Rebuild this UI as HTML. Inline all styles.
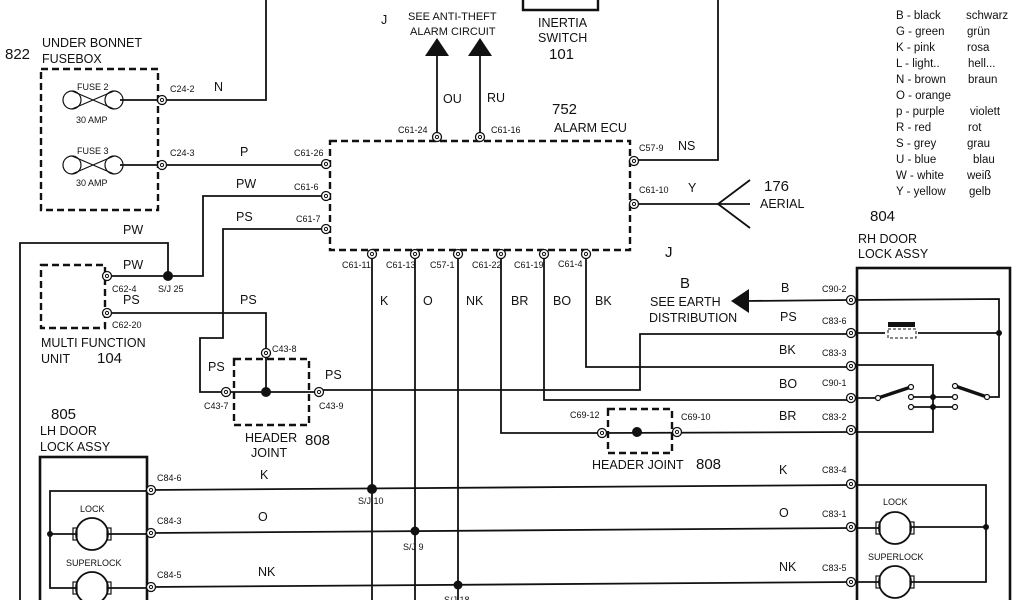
<!DOCTYPE html>
<html><head><meta charset="utf-8"><style>
html,body{margin:0;padding:0;background:#fff;}
svg{display:block;}
text{font-family:"Liberation Sans",sans-serif;fill:#111;}
.s{font-size:9px;}
.m{font-size:12.5px;}
.l{font-size:15px;}
</style></head><body>
<svg width="1024" height="600" viewBox="0 0 1024 600" xmlns="http://www.w3.org/2000/svg">
<defs>
<g id="c"><circle r="4.5" fill="#fff" stroke="#111" stroke-width="1.3"/><circle r="1.6" fill="none" stroke="#111" stroke-width="1"/></g>
</defs>
<g fill="none" stroke="#111" stroke-width="1.8">
<polyline points="266,0 266,100 162,100"/>
<polyline points="523,0 523,10 598,10 598,0" stroke-width="2.4"/>
<polyline points="718,0 718,160 632,160"/>
<rect x="41" y="69" width="117" height="141" stroke-dasharray="7,4" stroke-width="2.4"/>
<line x1="120" y1="100" x2="162" y2="100"/>
<line x1="120" y1="165" x2="330" y2="165"/>
<rect x="330" y="141" width="300" height="109" stroke-dasharray="7,4" stroke-width="2.4"/>
<line x1="437" y1="138" x2="437" y2="52"/>
<line x1="480" y1="138" x2="480" y2="52"/>
<line x1="632" y1="204" x2="718" y2="204"/>
<polyline points="750,180 718,204 750,228"/><line x1="718" y1="204" x2="750" y2="204"/>
<polyline points="330,196 203,196 203,276 107,276"/>
<polyline points="168,276 168,243 20,243 20,600"/>
<rect x="41" y="265" width="64" height="63" stroke-dasharray="7,4" stroke-width="2.4"/>
<polyline points="107,313 266,313 266,352"/>
<polyline points="330,229 223,229 223,338 200,338 200,392 226,392"/>
<rect x="234" y="359" width="75" height="66" stroke-dasharray="7,4" stroke-width="2.4"/>
<line x1="226" y1="392" x2="319" y2="392"/><line x1="266" y1="352" x2="266" y2="392"/>
<polyline points="319,390 640,390 640,334 850,334"/>
<line x1="372" y1="253" x2="372" y2="600"/>
<line x1="415" y1="253" x2="415" y2="600"/>
<line x1="458" y1="253" x2="458" y2="600"/>
<polyline points="501,253 501,433 602,433"/>
<polyline points="544,253 544,400 850,400"/>
<polyline points="586,253 586,367 850,367"/>
<rect x="608" y="409" width="64" height="44" stroke-dasharray="7,4" stroke-width="2.4"/>
<line x1="602" y1="433" x2="850" y2="432"/>
<line x1="745" y1="301" x2="850" y2="300"/>
<line x1="150" y1="490" x2="850" y2="485"/>
<line x1="150" y1="533" x2="850" y2="528"/>
<line x1="150" y1="587" x2="850" y2="582"/>
<rect x="857" y="268" width="153" height="340" stroke-width="2.6"/>
<polyline points="850,300 999,299 999,397 987,397"/>
<line x1="850" y1="333" x2="885" y2="333"/><line x1="918" y1="333" x2="999" y2="333"/>
<rect x="888" y="329" width="28" height="9" stroke-dasharray="3,2" stroke-width="1"/>
<polyline points="850,365 933,365 933,432 850,432"/>
<line x1="850" y1="398" x2="878" y2="398"/>
<line x1="878" y1="398" x2="911" y2="387" stroke-width="3.4"/>
<line x1="955" y1="386" x2="987" y2="397" stroke-width="3.4"/>
<line x1="911" y1="397" x2="955" y2="397"/><line x1="911" y1="407" x2="955" y2="407"/>
<polyline points="857,485 986,485 986,582 911,582"/>
<line x1="911" y1="527" x2="986" y2="527"/>
<line x1="857" y1="528" x2="879" y2="528"/><line x1="857" y1="582" x2="879" y2="582"/>
<rect x="40" y="457" width="107" height="150" stroke-width="2.6"/>
<polyline points="150,491 50,491 50,588 76,588"/>
<line x1="50" y1="534" x2="76" y2="534"/>
<line x1="108" y1="534" x2="150" y2="534"/><line x1="108" y1="588" x2="150" y2="588"/>
<circle cx="895" cy="528" r="16"/><circle cx="895" cy="582" r="16"/>
<circle cx="92" cy="534" r="16"/><circle cx="92" cy="588" r="16"/>
<rect x="876" y="522" width="4" height="12" stroke-width="1.2"/><rect x="910" y="522" width="4" height="12" stroke-width="1.2"/>
<rect x="876" y="576" width="4" height="12" stroke-width="1.2"/><rect x="910" y="576" width="4" height="12" stroke-width="1.2"/>
<rect x="73" y="528" width="4" height="12" stroke-width="1.2"/><rect x="107" y="528" width="4" height="12" stroke-width="1.2"/>
<rect x="73" y="582" width="4" height="12" stroke-width="1.2"/><rect x="107" y="582" width="4" height="12" stroke-width="1.2"/>
<g stroke-width="1.2"><circle cx="72" cy="100" r="9"/><circle cx="114" cy="100" r="9"/><polyline points="72,91 114,109"/><polyline points="72,109 114,91"/>
<circle cx="72" cy="165" r="9"/><circle cx="114" cy="165" r="9"/><polyline points="72,156 114,174"/><polyline points="72,174 114,156"/></g>
</g>
<rect x="888" y="322" width="27" height="5" fill="#111"/>
<polygon points="437,38 425,56 449,56" fill="#111"/>
<polygon points="480,38 468,56 492,56" fill="#111"/>
<polygon points="731,301 749,289 749,313" fill="#111"/>
<g fill="#111">
<circle cx="168" cy="276" r="5"/><circle cx="266" cy="392" r="5"/><circle cx="637" cy="432" r="5"/>
<circle cx="372" cy="489" r="5"/><circle cx="415" cy="531" r="4.5"/><circle cx="458" cy="585" r="4.5"/>
<circle cx="999" cy="333" r="3"/><circle cx="933" cy="397" r="3"/><circle cx="933" cy="407" r="3"/>
<circle cx="986" cy="527" r="3"/><circle cx="50" cy="534" r="3"/>
</g>
<g fill="#fff" stroke="#111" stroke-width="1.2">
<circle cx="911" cy="387" r="2.5"/><circle cx="911" cy="397" r="2.5"/><circle cx="911" cy="407" r="2.5"/><circle cx="878" cy="398" r="2.5"/>
<circle cx="955" cy="386" r="2.5"/><circle cx="955" cy="397" r="2.5"/><circle cx="955" cy="407" r="2.5"/><circle cx="987" cy="397" r="2.5"/>
</g>
<use href="#c" x="162" y="100"/><use href="#c" x="162" y="165"/>
<use href="#c" x="326" y="164"/><use href="#c" x="326" y="196"/><use href="#c" x="326" y="229"/>
<use href="#c" x="437" y="137"/><use href="#c" x="480" y="137"/>
<use href="#c" x="634" y="161"/><use href="#c" x="634" y="204"/>
<use href="#c" x="372" y="254"/><use href="#c" x="415" y="254"/><use href="#c" x="458" y="254"/>
<use href="#c" x="501" y="254"/><use href="#c" x="544" y="254"/><use href="#c" x="586" y="254"/>
<use href="#c" x="107" y="276"/><use href="#c" x="107" y="313"/>
<use href="#c" x="266" y="353"/><use href="#c" x="226" y="392"/><use href="#c" x="319" y="392"/>
<use href="#c" x="602" y="433"/><use href="#c" x="677" y="432"/>
<use href="#c" x="851" y="300"/><use href="#c" x="851" y="333"/><use href="#c" x="851" y="366"/>
<use href="#c" x="851" y="398"/><use href="#c" x="851" y="430"/><use href="#c" x="851" y="484"/>
<use href="#c" x="851" y="527"/><use href="#c" x="851" y="582"/>
<use href="#c" x="151" y="490"/><use href="#c" x="151" y="533"/><use href="#c" x="151" y="587"/>
<text x="5" y="59" class="l">822</text>
<text x="42" y="47" class="m">UNDER BONNET</text><text x="42" y="63" class="m">FUSEBOX</text>
<text x="77" y="90" class="s">FUSE 2</text><text x="76" y="123" class="s">30 AMP</text>
<text x="77" y="154" class="s">FUSE 3</text><text x="76" y="186" class="s">30 AMP</text>
<text x="170" y="92" class="s">C24-2</text><text x="214" y="91" class="m">N</text>
<text x="170" y="156" class="s">C24-3</text><text x="240" y="156" class="m">P</text>
<text x="294" y="156" class="s">C61-26</text>
<text x="236" y="188" class="m">PW</text><text x="294" y="190" class="s">C61-6</text>
<text x="236" y="221" class="m">PS</text><text x="296" y="222" class="s">C61-7</text>
<text x="123" y="234" class="m">PW</text>
<text x="123" y="269" class="m">PW</text><text x="112" y="292" class="s">C62-4</text><text x="158" y="292" class="s">S/J 25</text>
<text x="123" y="304" class="m">PS</text><text x="112" y="328" class="s">C62-20</text>
<text x="240" y="304" class="m">PS</text>
<text x="41" y="347" class="m">MULTI FUNCTION</text><text x="41" y="363" class="m">UNIT</text><text x="97" y="363" class="l">104</text>
<text x="208" y="371" class="m">PS</text><text x="272" y="352" class="s">C43-8</text>
<text x="204" y="409" class="s">C43-7</text><text x="319" y="409" class="s">C43-9</text><text x="325" y="379" class="m">PS</text>
<text x="245" y="442" class="m">HEADER</text><text x="251" y="457" class="m">JOINT</text><text x="305" y="445" class="l">808</text>
<text x="51" y="419" class="l">805</text><text x="40" y="435" class="m">LH DOOR</text><text x="40" y="451" class="m">LOCK ASSY</text>
<text x="80" y="512" class="s">LOCK</text><text x="66" y="566" class="s">SUPERLOCK</text>
<text x="157" y="481" class="s">C84-6</text><text x="260" y="479" class="m">K</text>
<text x="157" y="524" class="s">C84-3</text><text x="258" y="521" class="m">O</text>
<text x="157" y="578" class="s">C84-5</text><text x="258" y="576" class="m">NK</text>
<text x="358" y="504" class="s">S/J 10</text><text x="403" y="550" class="s">S/J 9</text><text x="444" y="603" class="s">S/J 18</text>
<text x="381" y="24" class="m">J</text>
<text x="408" y="20" class="s" style="font-size:11px">SEE ANTI-THEFT</text><text x="410" y="35" class="s" style="font-size:11px">ALARM CIRCUIT</text>
<text x="538" y="27" class="m">INERTIA</text><text x="538" y="42" class="m">SWITCH</text><text x="549" y="59" class="l">101</text>
<text x="443" y="103" class="m">OU</text><text x="487" y="102" class="m">RU</text>
<text x="398" y="133" class="s">C61-24</text><text x="491" y="133" class="s">C61-16</text>
<text x="552" y="114" class="l">752</text><text x="554" y="132" class="m">ALARM ECU</text>
<text x="639" y="151" class="s">C57-9</text><text x="678" y="150" class="m">NS</text>
<text x="639" y="193" class="s">C61-10</text><text x="688" y="192" class="m">Y</text>
<text x="764" y="191" class="l">176</text><text x="760" y="208" class="m">AERIAL</text>
<text x="342" y="268" class="s">C61-11</text><text x="386" y="268" class="s">C61-13</text><text x="430" y="268" class="s">C57-1</text>
<text x="472" y="268" class="s">C61-22</text><text x="514" y="268" class="s">C61-19</text><text x="558" y="267" class="s">C61-4</text>
<text x="380" y="305" class="m">K</text><text x="423" y="305" class="m">O</text><text x="466" y="305" class="m">NK</text>
<text x="511" y="305" class="m">BR</text><text x="553" y="305" class="m">BO</text><text x="595" y="305" class="m">BK</text>
<text x="665" y="257" class="l">J</text><text x="680" y="288" class="l">B</text>
<text x="650" y="306" class="m">SEE EARTH</text><text x="649" y="322" class="m">DISTRIBUTION</text>
<text x="570" y="418" class="s">C69-12</text><text x="681" y="420" class="s">C69-10</text>
<text x="592" y="469" class="m">HEADER JOINT</text><text x="696" y="469" class="l">808</text>
<text x="781" y="292" class="m">B</text><text x="822" y="292" class="s">C90-2</text>
<text x="780" y="321" class="m">PS</text><text x="822" y="324" class="s">C83-6</text>
<text x="779" y="354" class="m">BK</text><text x="822" y="356" class="s">C83-3</text>
<text x="779" y="388" class="m">BO</text><text x="822" y="386" class="s">C90-1</text>
<text x="779" y="420" class="m">BR</text><text x="822" y="420" class="s">C83-2</text>
<text x="779" y="474" class="m">K</text><text x="822" y="473" class="s">C83-4</text>
<text x="779" y="517" class="m">O</text><text x="822" y="517" class="s">C83-1</text>
<text x="779" y="571" class="m">NK</text><text x="822" y="571" class="s">C83-5</text>
<text x="870" y="221" class="l">804</text><text x="858" y="243" class="m">RH DOOR</text><text x="858" y="258" class="m">LOCK ASSY</text>
<text x="883" y="505" class="s">LOCK</text><text x="868" y="560" class="s">SUPERLOCK</text>
<g class="m" style="font-size:11.5px">
<text x="896" y="19">B - black</text><text x="966" y="19">schwarz</text>
<text x="896" y="35">G - green</text><text x="967" y="35">grün</text>
<text x="896" y="51">K - pink</text><text x="967" y="51">rosa</text>
<text x="896" y="67">L -  light..</text><text x="968" y="67">hell...</text>
<text x="896" y="83">N - brown</text><text x="968" y="83">braun</text>
<text x="896" y="99">O - orange</text>
<text x="896" y="115">p -  purple</text><text x="970" y="115">violett</text>
<text x="896" y="131">R - red</text><text x="968" y="131">rot</text>
<text x="896" y="147">S - grey</text><text x="967" y="147">grau</text>
<text x="896" y="163">U -  blue</text><text x="973" y="163">blau</text>
<text x="896" y="179">W - white</text><text x="967" y="179">weiß</text>
<text x="896" y="195">Y - yellow</text><text x="969" y="195">gelb</text>
</g>
</svg>
</body></html>
